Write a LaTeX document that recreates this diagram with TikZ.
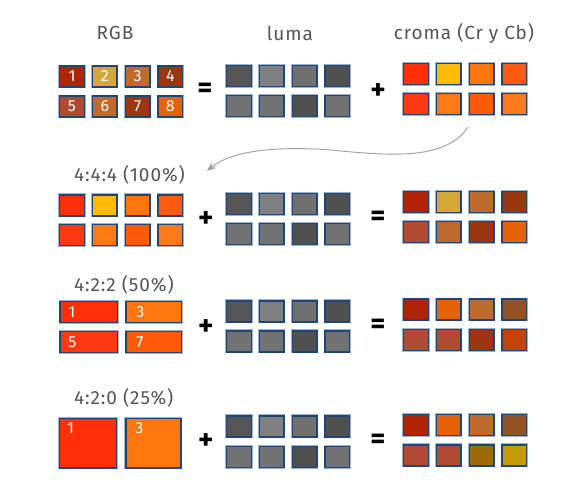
\documentclass[tikz,border=0pt]{standalone}
\usepackage{fontspec}
\setmainfont{Fira Sans}
\newfontfamily\spacedfont[LetterSpace=5]{Fira Sans}
\usetikzlibrary{arrows.meta}
\definecolor{cellborder}{HTML}{1E4778}
\definecolor{cellhalo}{HTML}{9DB4D0}
\definecolor{labelgray}{HTML}{555555}
\definecolor{arrowgray}{HTML}{A29A9E}
% RGB / results
\definecolor{q1}{HTML}{B22204}
\definecolor{q2}{HTML}{D4A837}
\definecolor{q3}{HTML}{C06A2E}
\definecolor{q4}{HTML}{9C3610}
\definecolor{q5}{HTML}{B04A35}
\definecolor{q8}{HTML}{E66207}
\definecolor{q9}{HTML}{925224}
\definecolor{q10}{HTML}{C44407}
\definecolor{q11}{HTML}{9C6A06}
\definecolor{q12}{HTML}{C49A06}
% croma
\definecolor{k1}{HTML}{FF3008}
\definecolor{k2}{HTML}{FFBB08}
\definecolor{k3}{HTML}{FF760F}
\definecolor{k4}{HTML}{FF5A10}
\definecolor{k5}{HTML}{FF3A12}
\definecolor{k6}{HTML}{FF7A14}
\definecolor{k7}{HTML}{FF5A08}
\definecolor{k8}{HTML}{FF7A1A}
% luma
\definecolor{l1}{HTML}{555555}
\definecolor{l2}{HTML}{808080}
\definecolor{l3}{HTML}{707070}
\definecolor{l4}{HTML}{505050}
\definecolor{l5}{HTML}{727272}
\tikzset{
  cell/.style={rectangle, draw=cellborder, line width=1.4pt,
    minimum width=24.5pt, minimum height=21pt, inner sep=0pt,
    text=white, font=\fontsize{16}{16}\selectfont,
    preaction={draw=cellhalo, line width=2.8pt}},
  head/.style={text=labelgray, font=\spacedfont\fontsize{19}{19}\selectfont},
  ratio/.style={text=labelgray, font=\spacedfont\fontsize{19}{19}\selectfont, anchor=west},
  op/.style={font=\bfseries\fontsize{29}{29}\selectfont, text=black},
  num/.style={text=white, font=\fontsize{16}{16}\selectfont, inner sep=0pt},
}
\newcommand\blockcells[5]{%
  \foreach \c [count=\i from 0] in {#5} {
    \pgfmathtruncatemacro\col{mod(\i,4)}
    \pgfmathtruncatemacro\row{\i/4}
    \pgfmathsetmacro\yy{\row==0 ? #3 : #4}
    \node[cell, fill=\c] (#1\i) at ({#2+32.8*\col}, \yy) {};
  }%
}
\begin{document}
\begin{tikzpicture}[x=1pt,y=-1pt]
\useasboundingbox[fill=white] (0,0) rectangle (586,498);

% headers
\node[head] (hrgb) at (115,33) {RGB};
\node[head] (hluma) at (290,33) {luma};
\node[head] (hcroma) at (464,33) {croma (Cr y Cb)};

% top row: RGB
\foreach \c/\t [count=\i from 0] in {q1/1,q2/2,q3/3,q4/4,q5/5,q3/6,q4/7,q8/8} {
  \pgfmathtruncatemacro\col{mod(\i,4)}
  \pgfmathtruncatemacro\row{\i/4}
  \pgfmathsetmacro\yy{\row==0 ? 76.5 : 106.5}
  \node[cell, fill=\c] (rgb\i) at ({72+32.8*\col}, \yy) {\t};
}
\node[op] (eq0) at (205,90) {=};
\blockcells{luma0}{239}{75.7}{105.7}{l1,l2,l3,l4,l5,l5,l4,l5}
\node[op] (plus0) at (378,92) {+};
\blockcells{croma0}{416}{73.7}{103.7}{k1,k2,k3,k4,k5,k6,k7,k8}

% arrow
\coordinate (astart) at (468,127);
\coordinate (aend) at (207,171);
\draw[arrowgray, line width=0.9pt, -{Stealth[length=9pt,width=7pt,inset=3pt]}]
  (astart) .. controls (445,162) and (385,155) .. (330,150)
  .. controls (280,146) and (232,150) .. (aend);

% 4:4:4
\node[ratio] (r444) at (70.5,175) {4:4:4 (100\%)};
\blockcells{chr444}{72}{205.3}{235}{k1,k2,k3,k4,k5,k6,k7,k8}
\node[op] (plus444) at (205.7,220) {+};
\blockcells{luma444}{239}{203.7}{233.7}{l1,l2,l3,l4,l5,l5,l4,l5}
\node[op] (eq444) at (378,218) {=};
\blockcells{res444}{416}{202}{232}{q1,q2,q3,q4,q5,q3,q4,q8}

% 4:2:2
\node[ratio] (r422) at (70.5,285) {4:2:2 (50\%)};
\node[cell, fill=k1, minimum width=57.5pt] (c422a) at (88.7,312) {};
\node[cell, fill=k3, minimum width=55.5pt] (c422b) at (153.7,312) {};
\node[cell, fill=k5, minimum width=57.5pt] (c422c) at (88.7,342) {};
\node[cell, fill=k7, minimum width=55.5pt] (c422d) at (153.7,342) {};
\node[num, anchor=west] (n422a) at ([xshift=9pt]c422a.west) {1};
\node[num, anchor=west] (n422b) at ([xshift=11pt]c422b.west) {3};
\node[num, anchor=west] (n422c) at ([xshift=9pt]c422c.west) {5};
\node[num, anchor=west] (n422d) at ([xshift=11pt]c422d.west) {7};
\node[op] (plus422) at (205.7,328) {+};
\blockcells{luma422}{239}{311.3}{341.3}{l1,l2,l3,l4,l5,l5,l4,l5}
\node[op] (eq422) at (378,326.7) {=};
\blockcells{res422}{416}{309.5}{339.7}{q1,q8,q3,q9,q5,q5,q4,q10}

% 4:2:0
\node[ratio] (r420) at (70.5,398.3) {4:2:0 (25\%)};
\node[cell, fill=k1, minimum width=57pt, minimum height=49.5pt] (c420a) at (88,443.3) {};
\node[cell, fill=k3, minimum width=55pt, minimum height=49.5pt] (c420b) at (153.3,443.3) {};
\node[num, anchor=north west] (n420a) at ([xshift=8pt,yshift=-5pt]c420a.north west) {1};
\node[num, anchor=north west] (n420b) at ([xshift=10pt,yshift=-5pt]c420b.north west) {3};
\node[op] (plus420) at (205.7,441.7) {+};
\blockcells{luma420}{239}{426.3}{456.7}{l1,l2,l3,l4,l5,l5,l4,l5}
\node[op] (eq420) at (378,441.7) {=};
\blockcells{res420}{416}{425}{455.3}{q1,q8,q3,q9,q5,q5,q11,q12}
\end{tikzpicture}
\end{document}
